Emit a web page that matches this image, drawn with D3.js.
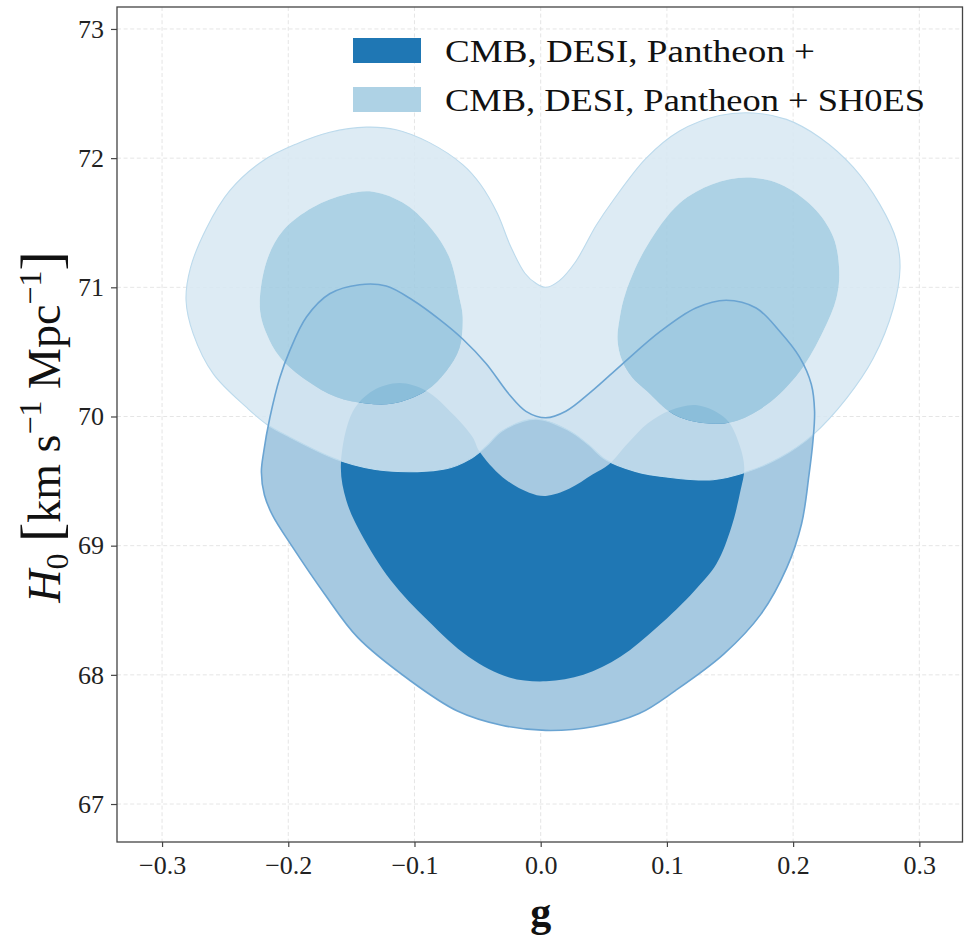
<!DOCTYPE html>
<html>
<head>
<meta charset="utf-8">
<script src="https://cdn.jsdelivr.net/npm/d3@7"></script>
<style>
  body { margin: 0; background: #fff; }
  svg { display: block; }
</style>
</head>
<body>
<svg id="chart" width="969" height="940"></svg>
<script>
// Axis ticks
const xTicks = [-0.3, -0.2, -0.1, 0.0, 0.1, 0.2, 0.3];
const yTicks = [67, 68, 69, 70, 71, 72, 73];

// Contour outlines, (g, H0) pairs
// CMB, DESI, Pantheon+ : 95% region
const baseOuter = [
  [-0.2195, 69.725], [-0.2146, 69.99], [-0.2067, 70.30], [-0.1988, 70.51],
  [-0.1856, 70.77], [-0.1672, 70.95], [-0.1435, 71.02], [-0.1224, 71.01], [-0.1013, 70.90],
  [-0.0800, 70.75], [-0.0618, 70.60], [-0.0433, 70.41], [-0.0249, 70.17], [-0.0117, 70.04],
  [0.0041, 69.99], [0.0199, 70.04], [0.0410, 70.20], [0.0640, 70.40], [0.0950, 70.66],
  [0.1229, 70.84], [0.1469, 70.90], [0.1707, 70.84], [0.1893, 70.66], [0.2051, 70.46],
  [0.2144, 70.25], [0.2170, 70.04], [0.2157, 69.81], [0.2126, 69.55], [0.2067, 69.17],
  [0.1950, 68.83], [0.1745, 68.47], [0.1450, 68.16], [0.1070, 67.88], [0.0780, 67.70],
  [0.0425, 67.60], [0.0040, 67.57], [-0.0310, 67.61], [-0.0660, 67.72], [-0.1040, 67.96],
  [-0.1450, 68.29], [-0.1715, 68.63], [-0.1980, 69.01], [-0.2122, 69.23], [-0.2189, 69.392],
  [-0.2213, 69.57]
];
// CMB, DESI, Pantheon+ : 68% region
const baseInner = [
  [-0.1583, 69.63], [-0.1488, 70.04], [-0.1330, 70.20], [-0.1119, 70.26], [-0.0908, 70.20],
  [-0.0697, 70.02], [-0.0539, 69.84], [-0.0486, 69.73], [-0.0302, 69.53], [-0.0091, 69.41],
  [0.0041, 69.385], [0.0225, 69.44], [0.0410, 69.55], [0.0542, 69.63], [0.0689, 69.79],
  [0.0849, 69.947], [0.1029, 70.048], [0.1241, 70.087], [0.1469, 69.98], [0.1575, 69.78],
  [0.1613, 69.60], [0.1584, 69.43], [0.1510, 69.14], [0.1393, 68.86], [0.1217, 68.65],
  [0.0924, 68.37], [0.0631, 68.14], [0.0338, 68.00], [0.0043, 67.95], [-0.0249, 67.98],
  [-0.0572, 68.14], [-0.0894, 68.42], [-0.1187, 68.73], [-0.1422, 69.09], [-0.1540, 69.35]
];
// CMB, DESI, Pantheon+SH0ES : 95% region
const shoesOuter = [
  [-0.2753, 70.64], [-0.2810, 70.90], [-0.2775, 71.15], [-0.2647, 71.46], [-0.2462, 71.75],
  [-0.2200, 71.98], [-0.1935, 72.11], [-0.1672, 72.20], [-0.1382, 72.24], [-0.1145, 72.22],
  [-0.0881, 72.12], [-0.0618, 71.95], [-0.0475, 71.794], [-0.0344, 71.573], [-0.0237, 71.314],
  [-0.0125, 71.109], [-0.0038, 71.031], [0.0041, 71.00], [0.0146, 71.05], [0.0278, 71.20],
  [0.0440, 71.48], [0.0572, 71.67], [0.0836, 72.00], [0.1100, 72.21], [0.1417, 72.33],
  [0.1682, 72.35], [0.1947, 72.30], [0.2211, 72.16], [0.2476, 71.93], [0.2688, 71.64],
  [0.2820, 71.36], [0.2847, 71.15], [0.2794, 70.84], [0.2635, 70.45], [0.2423, 70.14],
  [0.2159, 69.86], [0.1894, 69.68], [0.1630, 69.57], [0.1365, 69.51], [0.1012, 69.53],
  [0.0750, 69.575], [0.0515, 69.665], [0.0380, 69.78], [0.0225, 69.89], [-0.0038, 69.98],
  [-0.0302, 69.89], [-0.0430, 69.77], [-0.0560, 69.67], [-0.0749, 69.595], [-0.1224, 69.58],
  [-0.1593, 69.66], [-0.1988, 69.84], [-0.2172, 69.94], [-0.2330, 70.07], [-0.2594, 70.33]
];
// CMB, DESI, Pantheon+SH0ES : 68% region, two lobes
const shoesInnerLeft = [
  [-0.2225, 70.84], [-0.2172, 71.20], [-0.2041, 71.44], [-0.1804, 71.62], [-0.1540, 71.72],
  [-0.1330, 71.74], [-0.1066, 71.64], [-0.0855, 71.44], [-0.0723, 71.23], [-0.0644, 70.92],
  [-0.0618, 70.77], [-0.0644, 70.53], [-0.0749, 70.35], [-0.0908, 70.20], [-0.1172, 70.10],
  [-0.1382, 70.10], [-0.1619, 70.15], [-0.1856, 70.28], [-0.2067, 70.46], [-0.2172, 70.64]
];
const shoesInnerRight = [
  [0.0609, 70.592], [0.0626, 70.763], [0.0677, 70.97], [0.0836, 71.31], [0.1100, 71.65],
  [0.1365, 71.80], [0.1630, 71.85], [0.1894, 71.80], [0.2159, 71.62], [0.2318, 71.39],
  [0.2365, 71.13], [0.2344, 70.92], [0.2238, 70.66], [0.2053, 70.35], [0.1789, 70.09],
  [0.1524, 69.96], [0.1286, 69.95], [0.1048, 70.02], [0.0842, 70.197], [0.0723, 70.306],
  [0.0643, 70.437]
];

// Legend entries
const legendLabels = ["CMB, DESI, Pantheon +", "CMB, DESI, Pantheon + SH0ES"];
const legendColors = ["#1f77b4", "#aed2e5"];

const svg = d3.select("#chart");
const plotLeft = 117, plotRight = 962.5, plotTop = 7, plotBottom = 842;

const x = d3.scaleLinear().domain([-0.3357, 0.3342]).range([plotLeft, plotRight]);
const y = d3.scaleLinear().domain([66.706, 73.17]).range([plotBottom, plotTop]);

const serif = "'Liberation Serif', 'Times New Roman', serif";

// grid
const grid = svg.append("g")
  .attr("stroke", "#e2e2e2").attr("stroke-width", 0.9).attr("stroke-dasharray", "4,2.6");
grid.selectAll(".gx").data(xTicks).join("line")
  .attr("x1", d => x(d)).attr("x2", d => x(d)).attr("y1", plotTop).attr("y2", plotBottom);
grid.selectAll(".gy").data(yTicks).join("line")
  .attr("y1", d => y(d)).attr("y2", d => y(d)).attr("x1", plotLeft).attr("x2", plotRight);

const closed = d3.line()
  .x(d => x(d[0])).y(d => y(d[1]))
  .curve(d3.curveCatmullRomClosed.alpha(0.5));

const plot = svg.append("g");

// CMB, DESI, Pantheon+
plot.append("path").attr("d", closed(baseOuter)).attr("fill", "#a6c9e1");
plot.append("path").attr("d", closed(baseInner)).attr("fill", "#1f77b4");

// CMB, DESI, Pantheon+SH0ES (translucent bands)
plot.append("path")
  .attr("d", closed(shoesOuter) + closed(shoesInnerLeft) + closed(shoesInnerRight))
  .attr("fill-rule", "evenodd")
  .attr("fill", "rgb(215,231,242)").attr("fill-opacity", 0.85);
plot.append("path")
  .attr("d", closed(shoesInnerLeft) + closed(shoesInnerRight))
  .attr("fill", "rgb(159,202,224)").attr("fill-opacity", 0.85);
plot.append("path").attr("d", closed(shoesOuter))
  .attr("fill", "none").attr("stroke", "#bcdaec").attr("stroke-width", 1.1);

// outline of the Pantheon+ 95% region
plot.append("path").attr("d", closed(baseOuter))
  .attr("fill", "none").attr("stroke", "#6aa4d2").attr("stroke-width", 1.6);

// axes
const xAxis = svg.append("g").attr("transform", `translate(0,${plotBottom})`)
  .call(d3.axisBottom(x).tickValues(xTicks).tickFormat(d3.format(".1f"))
    .tickSize(5).tickPadding(9));
const yAxis = svg.append("g").attr("transform", `translate(${plotLeft},0)`)
  .call(d3.axisLeft(y).tickValues(yTicks).tickFormat(d3.format("d"))
    .tickSize(6).tickPadding(7));
[xAxis, yAxis].forEach(a => {
  a.select(".domain").remove();
  a.selectAll(".tick line").attr("stroke", "#444").attr("stroke-width", 1.2);
  a.selectAll(".tick text").attr("font-family", serif).attr("font-size", 26).attr("fill", "#222");
});

// frame
svg.append("rect")
  .attr("x", plotLeft).attr("y", plotTop)
  .attr("width", plotRight - plotLeft).attr("height", plotBottom - plotTop)
  .attr("fill", "none").attr("stroke", "#444").attr("stroke-width", 1.3);

// x label
svg.append("text")
  .attr("x", x(0)).attr("y", 926).attr("text-anchor", "middle")
  .attr("font-family", serif).attr("font-weight", "bold").attr("font-size", 42).attr("fill", "#111")
  .text("g");

// y label
const yl = svg.append("text")
  .attr("transform", "translate(60,427) rotate(-90)")
  .attr("text-anchor", "middle")
  .attr("font-family", serif).attr("font-size", 46).attr("fill", "#111");
yl.append("tspan").attr("font-style", "italic").text("H");
yl.append("tspan").attr("font-size", 32).attr("dy", 8).text("0");
yl.append("tspan").attr("dy", -8).text(" ");
yl.append("tspan").attr("font-size", 58).text("[");
yl.append("tspan").text("km s");
yl.append("tspan").attr("font-size", 32).attr("dy", -19).text("\u22121");
yl.append("tspan").attr("dy", 19).text(" Mpc");
yl.append("tspan").attr("font-size", 32).attr("dy", -19).text("\u22121");
yl.append("tspan").attr("font-size", 58).attr("dy", 19).text("]");

// legend
const legend = svg.append("g");
const legendWidths = [370, 480];
legendLabels.forEach((lab, i) => {
  const yy = 38 + i * 49;
  legend.append("rect")
    .attr("x", 353).attr("y", yy).attr("width", 68).attr("height", 25)
    .attr("fill", legendColors[i]);
  legend.append("text")
    .attr("x", 445).attr("y", yy + 24)
    .attr("font-family", serif).attr("font-size", 32).attr("fill", "#111")
    .attr("textLength", legendWidths[i]).attr("lengthAdjust", "spacingAndGlyphs")
    .text(lab);
});
</script>
</body>
</html>
